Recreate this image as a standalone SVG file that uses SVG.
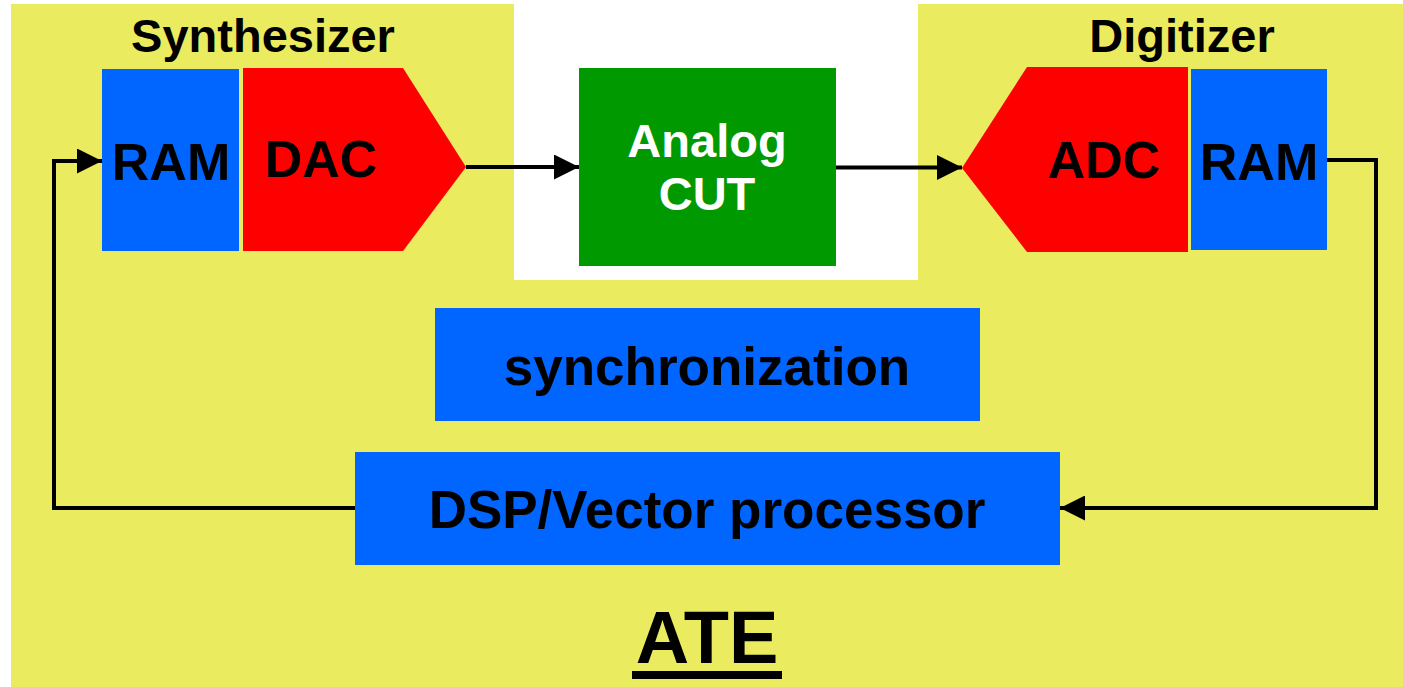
<svg xmlns="http://www.w3.org/2000/svg" width="1403" height="687" viewBox="0 0 1403 687">
<style>
.t{font-family:"Liberation Sans",Arial,sans-serif;font-weight:bold;fill:#000;text-anchor:middle}
.w{fill:#fff}
.blue{fill:#0066FF}
.red{fill:#FF0000}
.wire{fill:none;stroke:#000;stroke-width:4}
</style>
<defs>
<marker id="ah" markerUnits="userSpaceOnUse" viewBox="0 0 25 25" markerWidth="25" markerHeight="25" refX="25" refY="12.5" orient="auto">
<path d="M0,0 L25,12.5 L0,25 Z" fill="#000"/>
</marker>
</defs>
<rect width="1403" height="687" fill="#fff"/>
<g id="ate">
<path d="M11,4 H514 V280 H918 V4 H1403 V687 H11 Z" fill="#EAEB5E"/>
<text class="t" x="707" y="663" font-size="74">ATE</text>
<rect x="632" y="671" width="150" height="8" fill="#000"/>
</g>
<g id="synthesizer">
<text class="t" x="263" y="52" font-size="47">Synthesizer</text>
</g>
<g id="ram1">
<rect class="blue" x="102" y="69" width="137" height="182"/>
<text class="t" x="171" y="180" font-size="52">RAM</text>
</g>
<g id="dac">
<path class="red" d="M243,68 H403 L466,167 L403,251 H243 Z"/>
<text class="t" x="321" y="177" font-size="52">DAC</text>
</g>
<g id="cut">
<rect x="579" y="68" width="257" height="198" fill="#009900"/>
<text class="t w" x="707" y="157" font-size="47">Analog</text>
<text class="t w" x="707" y="210" font-size="47">CUT</text>
</g>
<g id="digitizer">
<text class="t" x="1182" y="52" font-size="47">Digitizer</text>
</g>
<g id="adc">
<path class="red" d="M1027,67 H1188 V252 H1027 L962,168 Z"/>
<text class="t" x="1104" y="178" font-size="52">ADC</text>
</g>
<g id="ram2">
<rect class="blue" x="1191" y="69" width="136" height="181"/>
<text class="t" x="1259" y="180" font-size="52">RAM</text>
</g>
<g id="sync">
<rect class="blue" x="435" y="308" width="545" height="113"/>
<text class="t" x="707" y="385" font-size="53">synchronization</text>
</g>
<g id="dsp">
<rect class="blue" x="355" y="452" width="705" height="113"/>
<text class="t" x="707" y="528" font-size="53">DSP/Vector processor</text>
</g>
<g id="connectors">
<path class="wire" d="M466,167 H579" marker-end="url(#ah)"/>
<path class="wire" d="M836,167.5 H962" marker-end="url(#ah)"/>
<path class="wire" d="M1327,160 H1376 V508 H1060" marker-end="url(#ah)"/>
<path class="wire" d="M355,508 H54 V161 H102" marker-end="url(#ah)"/>
</g>
</svg>
